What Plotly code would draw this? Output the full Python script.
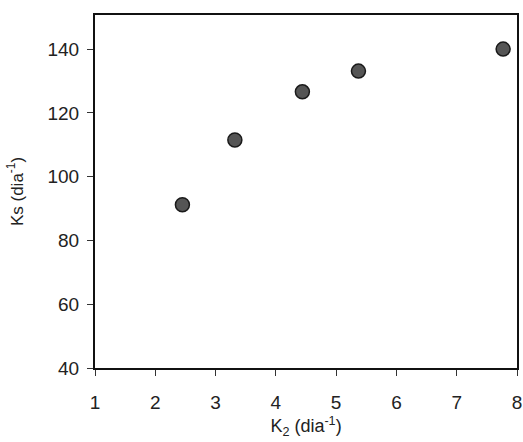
import plotly.graph_objects as go

k2 = [2.45, 3.32, 4.44, 5.37, 7.77]
ks = [91.2, 111.5, 126.6, 133.1, 140.0]
x_ticks = [1, 2, 3, 4, 5, 6, 7, 8]
y_ticks = [40, 60, 80, 100, 120, 140]

fig = go.Figure()
fig.add_trace(go.Scatter(
    x=k2, y=ks, mode="markers",
    marker=dict(size=14, color="#555555", line=dict(color="#1a1a1a", width=1.5)),
    showlegend=False,
))

axis_common = dict(
    showline=True, linecolor="#111111", linewidth=2, mirror=True,
    ticks="outside", ticklen=6, tickwidth=1, tickcolor="#333333",
    showgrid=False, zeroline=False,
    tickfont=dict(family="Liberation Sans, Arial", size=19, color="#222222"),
)

fig.update_layout(
    width=523, height=442,
    margin=dict(l=95, r=1, t=15, b=74),
    paper_bgcolor="white", plot_bgcolor="white",
    xaxis=dict(range=[1, 8], tickvals=x_ticks, ticklabelstandoff=10,
               ticklabeloverflow="allow",
               title=dict(text="K<sub>2</sub> (dia<sup>-1</sup>)", standoff=8,
                          font=dict(family="Liberation Sans, Arial", size=18, color="#222222")),
               **axis_common),
    yaxis=dict(range=[40, 150.7], tickvals=y_ticks, ticklabelstandoff=4,
               title=dict(text="Ks (dia<sup>-1</sup>)", standoff=20,
                          font=dict(family="Liberation Sans, Arial", size=17, color="#222222")),
               **axis_common),
)

fig.write_html("out.html")
